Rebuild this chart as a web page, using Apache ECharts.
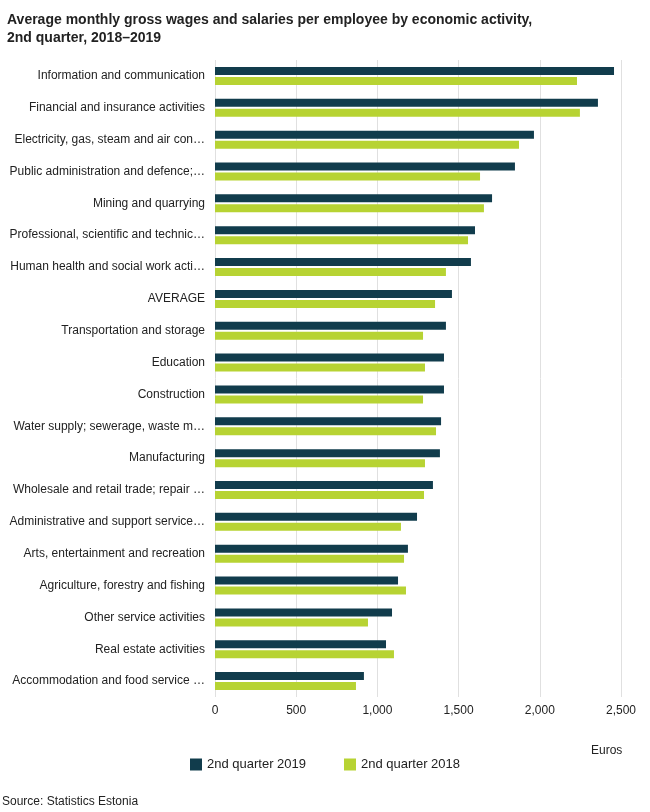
<!DOCTYPE html>
<html>
<head>
<meta charset="utf-8">
<script src="https://cdn.jsdelivr.net/npm/echarts@6/dist/echarts.min.js"></script>
<style>
  body { margin: 0; background: #fff; }
  #chart { width: 650px; height: 812px; }
</style>
</head>
<body>
<div id="chart"></div>
<script>
// Categories, top to bottom
const categories = [
  'Information and communication',
  'Financial and insurance activities',
  'Electricity, gas, steam and air conditioning supply',
  'Public administration and defence; compulsory social security',
  'Mining and quarrying',
  'Professional, scientific and technical activities',
  'Human health and social work activities',
  'AVERAGE',
  'Transportation and storage',
  'Education',
  'Construction',
  'Water supply; sewerage, waste management',
  'Manufacturing',
  'Wholesale and retail trade; repair of motor vehicles',
  'Administrative and support service activities',
  'Arts, entertainment and recreation',
  'Agriculture, forestry and fishing',
  'Other service activities',
  'Real estate activities',
  'Accommodation and food service activities'
];
const q2019 = [2457, 2358, 1964, 1847, 1706, 1601, 1576, 1459, 1422, 1410, 1410, 1392, 1385, 1342, 1244, 1188, 1127, 1090, 1053, 917];
const q2018 = [2229, 2247, 1872, 1632, 1656, 1558, 1422, 1355, 1281, 1293, 1281, 1361, 1293, 1287, 1145, 1164, 1176, 942, 1102, 868];

const chart = echarts.init(document.getElementById('chart'));
chart.setOption({
  textStyle: { fontFamily: 'Liberation Sans, Arial, sans-serif' },
  title: {
    text: 'Average monthly gross wages and salaries per employee by economic activity,\n2nd quarter, 2018–2019',
    left: 2, top: 6,
    textStyle: { fontSize: 14, fontWeight: 'bold', color: '#222', lineHeight: 18 }
  },
  graphic: [{
    type: 'text', left: 2, bottom: 4,
    style: { text: 'Source: Statistics Estonia', fontSize: 12, fill: '#222' }
  }],
  legend: {
    bottom: 36, left: 'center', itemWidth: 12, itemHeight: 12, itemGap: 38,
    icon: 'rect',
    textStyle: { fontSize: 13, color: '#222' },
    data: ['2nd quarter 2019', '2nd quarter 2018']
  },
  grid: { left: 215, right: 29, top: 60, bottom: 115 },
  xAxis: {
    type: 'value', min: 0, max: 2500, interval: 500,
    name: 'Euros', nameLocation: 'end', nameGap: 0,
    nameTextStyle: { fontSize: 12, color: '#222', padding: [48, 0, 0, -30], verticalAlign: 'top' },
    axisLabel: { fontSize: 12, color: '#222', formatter: v => v.toLocaleString('en-US') },
    splitLine: { lineStyle: { color: '#e0e0e0' } },
    axisLine: { show: false }, axisTick: { show: false }
  },
  yAxis: {
    type: 'category', inverse: true, data: categories,
    axisLine: { show: false }, axisTick: { show: false },
    axisLabel: { fontSize: 12, color: '#222', width: 198, overflow: 'truncate', ellipsis: '…', margin: 10 }
  },
  series: [
    { name: '2nd quarter 2019', type: 'bar', data: q2019, barWidth: 8, barGap: '25%',
      itemStyle: { color: '#113c4c' } },
    { name: '2nd quarter 2018', type: 'bar', data: q2018, barWidth: 8,
      itemStyle: { color: '#b7d333' } }
  ]
});
</script>
</body>
</html>
